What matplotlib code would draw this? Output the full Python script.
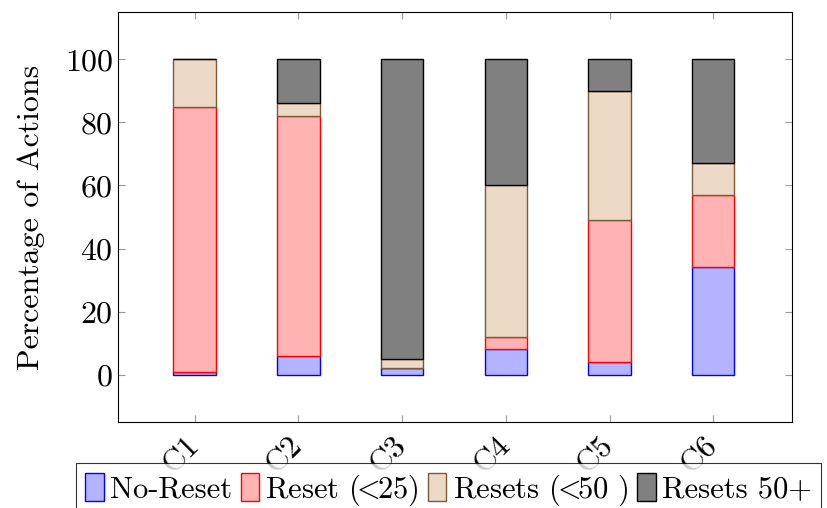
import numpy as np
import matplotlib
matplotlib.use("Agg")
import matplotlib.pyplot as plt

plt.rcParams['font.family'] = 'serif'
plt.rcParams['font.serif'] = ['cmr10']
plt.rcParams['mathtext.fontset'] = 'cm'
plt.rcParams['axes.formatter.use_mathtext'] = True

# Data (percent of actions per condition)
categories = ['C1', 'C2', 'C3', 'C4', 'C5', 'C6']
no_reset = [1, 6, 2, 8, 4, 34]
reset_25 = [84, 76, 0, 4, 45, 23]
resets_50 = [15, 4, 3, 48, 41, 10]
resets_50_plus = [0, 14, 95, 40, 10, 33]

series = [
    ('No-Reset', no_reset, '#b3b3ff', '#0000ff'),
    (r'Reset ($\!\!<\!\!$25)', reset_25, '#ffb3b3', '#ff0000'),
    (r'Resets ($\!\!<\!\!$50 )', resets_50, '#ecd9c6', '#7a5a3a'),
    ('Resets 50+', resets_50_plus, '#808080', '#000000'),
]

fs = 23

fig = plt.figure(figsize=(8.28, 5.08), dpi=100)
ax = fig.add_axes([118 / 828, 1 - 422 / 508, (792 - 118) / 828, (422 - 12) / 508])

x = np.arange(1, len(categories) + 1)
bottom = np.zeros(len(categories))
handles = []
for label, vals, fc, ec in series:
    vals = np.array(vals, dtype=float)
    b = ax.bar(x, vals, width=0.41, bottom=bottom, color=fc, edgecolor=ec,
               linewidth=1.0, label=label)
    handles.append(b)
    bottom += vals

ax.set_xlim(0.26, 6.76)
ax.set_ylim(-15, 115)
ax.set_yticks([0, 20, 40, 60, 80, 100])
ax.set_xticks(x)
ax.set_xticklabels(categories, rotation=45, ha='right', va='center',
                   rotation_mode='anchor')
ax.tick_params(axis='both', direction='in', labelsize=fs, length=5, color='#999999',
               top=True, right=True)
ax.tick_params(axis='x', pad=14)
ax.set_ylabel('Percentage of Actions', fontsize=fs, labelpad=14)
for s in ax.spines.values():
    s.set_linewidth(0.8)

leg = fig.legend(handles=handles, loc='upper left',
                 bbox_to_anchor=(76 / 828, 1 - 463 / 508), ncol=4, fontsize=22,
                 frameon=True, fancybox=False, edgecolor='black',
                 handlelength=0.6, handleheight=1.0, handletextpad=0.2,
                 columnspacing=0.3, borderpad=0.3, borderaxespad=0)
leg.get_frame().set_linewidth(0.8)

fig.savefig('out.png', dpi=100)
